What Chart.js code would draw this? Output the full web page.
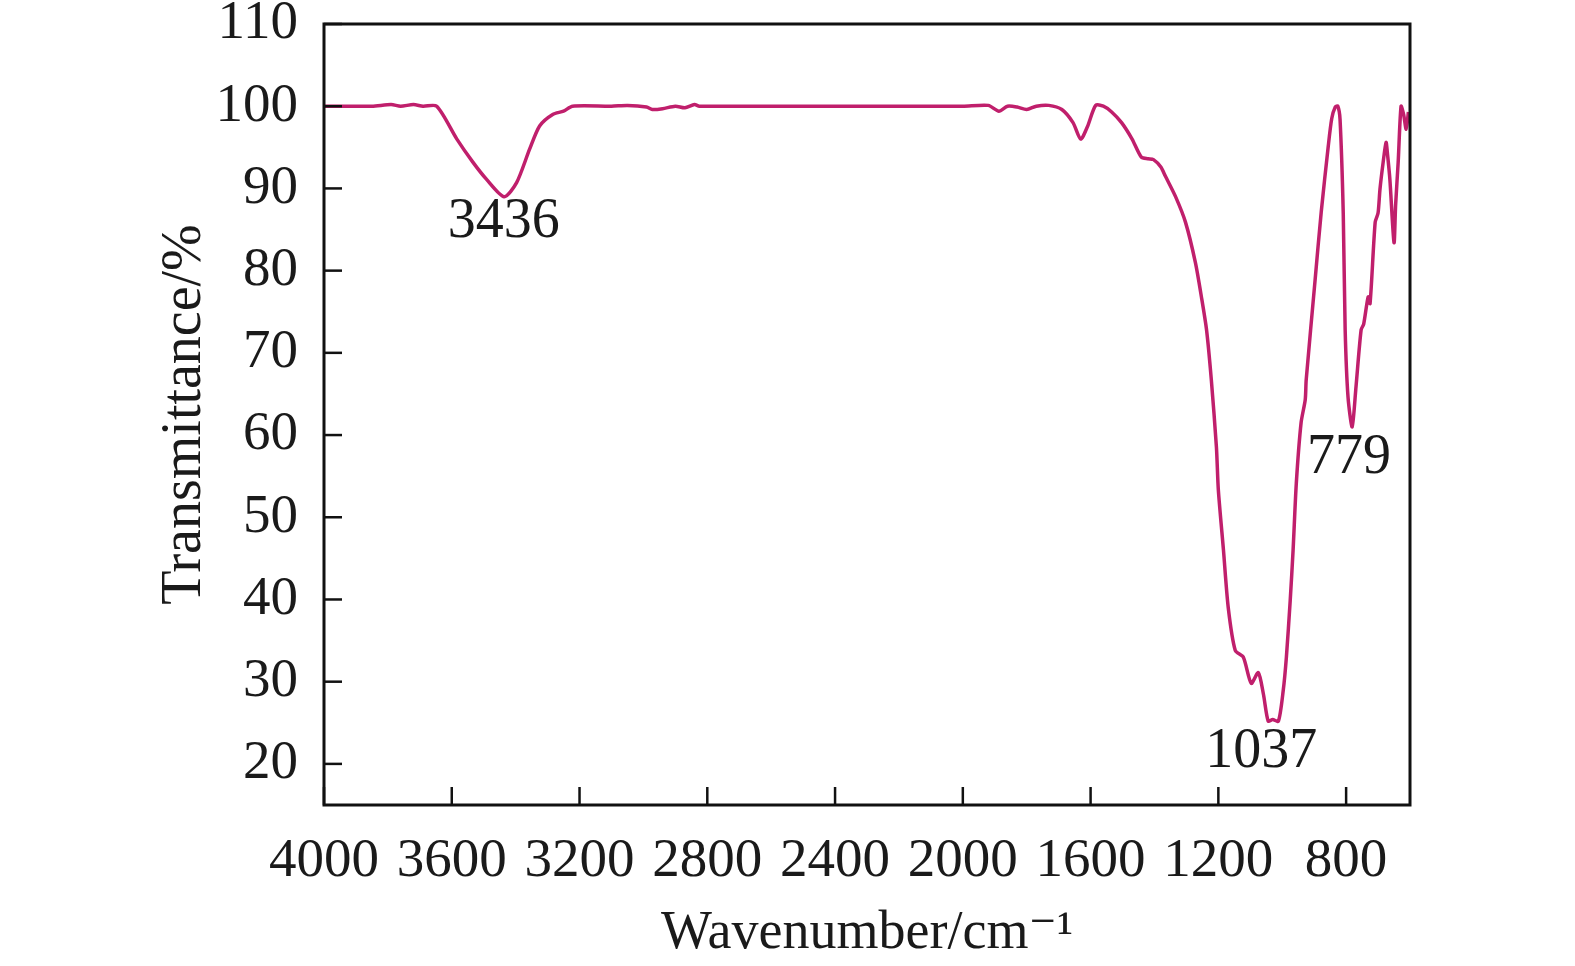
<!DOCTYPE html>
<html>
<head>
<meta charset="utf-8">
<script src="https://cdn.jsdelivr.net/npm/chart.js@4.4.1/dist/chart.umd.min.js"></script>
<style>
  html, body { margin: 0; padding: 0; background: #fff; }
  #wrap { width: 1575px; height: 966px; }
</style>
</head>
<body>
<div id="wrap"><canvas id="ftir"></canvas></div>
<script>
// wavenumber (cm-1) and transmittance (%)
var wavenumber = [4000, 3850, 3790, 3760, 3720, 3690, 3647, 3584, 3534, 3491, 3436, 3397, 3356, 3325, 3284, 3250, 3222,
    3100, 3050, 2990, 2972, 2940, 2900, 2870, 2840, 2825, 2400, 2000, 1920, 1887, 1860, 1830, 1800, 1770, 1731,
    1690, 1655, 1631, 1610, 1584, 1560, 1534, 1503, 1470, 1441, 1420, 1403, 1380, 1366, 1334, 1303, 1272, 1253,
    1237, 1222, 1206, 1200, 1184, 1169, 1147, 1122, 1097, 1075, 1059, 1044, 1030, 1012, 997, 987, 975, 966, 956,
    941, 928, 925, 897, 878, 856, 845, 834, 826, 819, 809, 803, 794, 781, 769, 753, 745, 731, 725, 709, 700, 694,
    684, 675, 670, 663, 650, 645, 637, 628, 620, 612, 605];
var transmittance = [100, 100, 100.2, 100, 100.2, 100, 100, 96, 93.2, 91.1, 89, 90.7, 94.8, 97.6, 99, 99.4, 100,
    100, 100.1, 99.9, 99.6, 99.7, 100, 99.8, 100.2, 100, 100, 100, 100.1, 99.4, 100, 99.9, 99.6, 100, 100.1,
    99.6, 98, 96, 97.5, 100.1, 100, 99.3, 98, 96, 93.8, 93.6, 93.5, 92.6, 91.5, 89, 85.9, 81, 76.8,
    72.8, 66.7, 58.5, 53.3, 46, 39, 33.8, 33, 29.8, 31.1, 28.5, 25.2, 25.4, 25.2, 28.9, 33, 39.9, 46, 54.1,
    61.5, 64.3, 66.7, 78.9, 87.1, 95.1, 98.5, 99.9, 100, 98.4, 87, 72.8, 64.6, 61, 65.9, 72.8, 73.5, 76.8, 76, 85.9, 87, 89.9,
    93.2, 95.6, 94, 91.1, 83.4, 88, 93.2, 100, 99, 97.2, 99.3];

var xTicks = [4000, 3600, 3200, 2800, 2400, 2000, 1600, 1200, 800];
var yTicks = [20, 30, 40, 50, 60, 70, 80, 90, 100, 110];

// peak labels: text, wavenumber, transmittance where the label sits
var peakText = ['3436', '1037', '779'];
var peakX = [3437, 1066, 791];
var peakY = [85.9, 21.4, 57.2];

var serif = "'Liberation Serif', 'DejaVu Serif', serif";

var frame = {
    id: 'frame',
    afterDraw: function (chart) {
        var ctx = chart.ctx, a = chart.chartArea;
        var xs = chart.scales.x, ys = chart.scales.y;
        ctx.save();
        ctx.strokeStyle = '#111';
        ctx.lineWidth = 2.5;
        // inward tick marks
        yTicks.forEach(function (v) {
            var py = ys.getPixelForValue(v);
            ctx.beginPath(); ctx.moveTo(a.left, py); ctx.lineTo(a.left + 18, py); ctx.stroke();
        });
        xTicks.forEach(function (v) {
            var px = xs.getPixelForValue(v);
            ctx.beginPath(); ctx.moveTo(px, a.bottom); ctx.lineTo(px, a.bottom - 18); ctx.stroke();
        });
        ctx.lineWidth = 3;
        ctx.strokeRect(a.left, a.top, a.right - a.left, a.bottom - a.top);
        // peak labels
        ctx.fillStyle = '#1a1a1a';
        ctx.font = '56px ' + serif;
        ctx.textAlign = 'center';
        ctx.textBaseline = 'middle';
        peakText.forEach(function (t, i) {
            ctx.fillText(t, xs.getPixelForValue(peakX[i]), ys.getPixelForValue(peakY[i]));
        });
        ctx.restore();
    }
};

function noPad(axis) {
    axis.paddingTop = 0; axis.paddingBottom = 0;
    axis.paddingLeft = 0; axis.paddingRight = 0;
}

var ctx = document.getElementById('ftir').getContext('2d');
var chart = new Chart(ctx, {
    type: 'line',
    data: {
        datasets: [{
            data: wavenumber.map(function (w, i) { return { x: w, y: transmittance[i] }; }),
            borderColor: '#c01f6c',
            borderWidth: 3.5,
            pointRadius: 0,
            tension: 0.25,
            fill: false
        }]
    },
    options: {
        responsive: true,
        maintainAspectRatio: false,
        animation: false,
        events: [],
        layout: { padding: { left: 0, top: 24, right: 165, bottom: 0 } },
        plugins: { legend: { display: false }, tooltip: { enabled: false } },
        scales: {
            x: {
                type: 'linear',
                reverse: true,
                min: 600,
                max: 4000,
                afterBuildTicks: function (axis) { axis.ticks = xTicks.map(function (v) { return { value: v }; }); },
                afterFit: function (axis) { axis.height = 161; noPad(axis); },
                grid: { display: false, drawTicks: false },
                border: { display: false },
                ticks: {
                    color: '#1a1a1a', padding: 24, maxRotation: 0, autoSkip: false,
                    font: { family: serif, size: 55 },
                    callback: function (v) { return String(v); }
                },
                title: { display: true, text: 'Wavenumber/cm\u207B\u00B9', color: '#1a1a1a', padding: { top: 0, bottom: 0 }, font: { family: serif, size: 54 } }
            },
            y: {
                min: 15,
                max: 110,
                afterBuildTicks: function (axis) { axis.ticks = yTicks.map(function (v) { return { value: v }; }); },
                afterFit: function (axis) { axis.width = 324; noPad(axis); },
                grid: { display: false, drawTicks: false },
                border: { display: false },
                ticks: {
                    color: '#1a1a1a', padding: 26, autoSkip: false,
                    font: { family: serif, size: 55 },
                    callback: function (v) { return String(v); }
                },
                title: { display: true, text: 'Transmittance/%', color: '#1a1a1a', padding: { top: 152, bottom: 0 }, font: { family: serif, size: 56 } }
            }
        }
    },
    plugins: [frame]
});
</script>
</body>
</html>
